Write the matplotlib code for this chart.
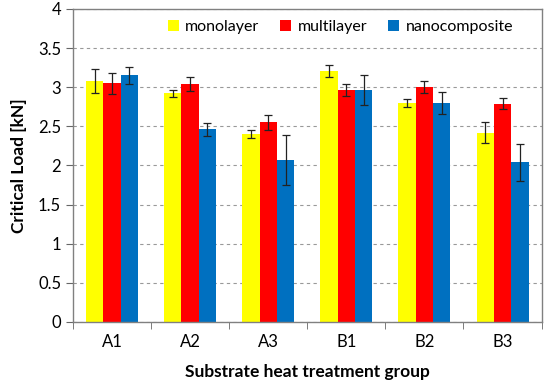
import matplotlib
matplotlib.use("Agg")
import matplotlib.pyplot as plt
import numpy as np

plt.rcParams['font.family'] = ['Lato', 'DejaVu Sans']

categories = ["A1", "A2", "A3", "B1", "B2", "B3"]
series = ["monolayer", "multilayer", "nanocomposite"]
monolayer = [3.08, 2.92, 2.40, 3.21, 2.80, 2.42]
monolayer_err = [0.155, 0.05, 0.05, 0.075, 0.05, 0.135]
multilayer = [3.05, 3.04, 2.55, 2.965, 3.00, 2.79]
multilayer_err = [0.135, 0.09, 0.10, 0.08, 0.075, 0.07]
nanocomposite = [3.15, 2.46, 2.07, 2.965, 2.80, 2.04]
nanocomposite_err = [0.105, 0.08, 0.32, 0.19, 0.14, 0.24]
colors = ["#FFFF00", "#FF0000", "#0070C0"]

fig = plt.figure(figsize=(5.5, 3.87), dpi=100)
ax = fig.add_axes([0.1327, 0.168, 0.852, 0.809])

x = np.arange(len(categories))
w = 0.222
vals = [monolayer, multilayer, nanocomposite]
errs = [monolayer_err, multilayer_err, nanocomposite_err]
for i, (v, e, c, s) in enumerate(zip(vals, errs, colors, series)):
    ax.bar(x + (i - 1) * w, v, w, color=c, label=s, zorder=2,
           yerr=e, error_kw=dict(ecolor="#222222", elinewidth=0.9, capsize=3, capthick=0.9, zorder=3))

ax.set_ylim(0, 4)
ax.set_xlim(-0.5, 5.5)
ax.set_yticks(np.arange(0, 4.01, 0.5))
ax.set_yticklabels(["0", "0.5", "1", "1.5", "2", "2.5", "3", "3.5", "4"])
ax.yaxis.grid(True, linestyle=(0, (3, 3)), color="#999999", linewidth=0.8, zorder=0)
ax.set_axisbelow(True)

ax.set_xticks(x)
ax.set_xticklabels(categories)
ax.set_xticks(np.arange(-0.5, 5.6, 1), minor=True)
ax.tick_params(axis='x', which='major', length=0, labelsize=12, pad=9)
ax.tick_params(axis='x', which='minor', length=5, direction='out', color="#666666")
ax.tick_params(axis='y', length=5, direction='out', color="#666666", labelsize=12)

for sp in ax.spines.values():
    sp.set_color("#808080")
    sp.set_linewidth(1.0)

ax.set_ylabel("Critical Load [kN]", fontsize=12.5, fontweight='bold', labelpad=8)
ax.set_xlabel("Substrate heat treatment group", fontsize=12.5, fontweight='bold', labelpad=10)

ax.legend(loc='upper right', ncol=3, frameon=False, fontsize=11.5,
          handlelength=0.7, handleheight=0.7, handletextpad=0.4, columnspacing=1.3,
          bbox_to_anchor=(0.97, 1.01))

fig.savefig("out.png", dpi=100)
